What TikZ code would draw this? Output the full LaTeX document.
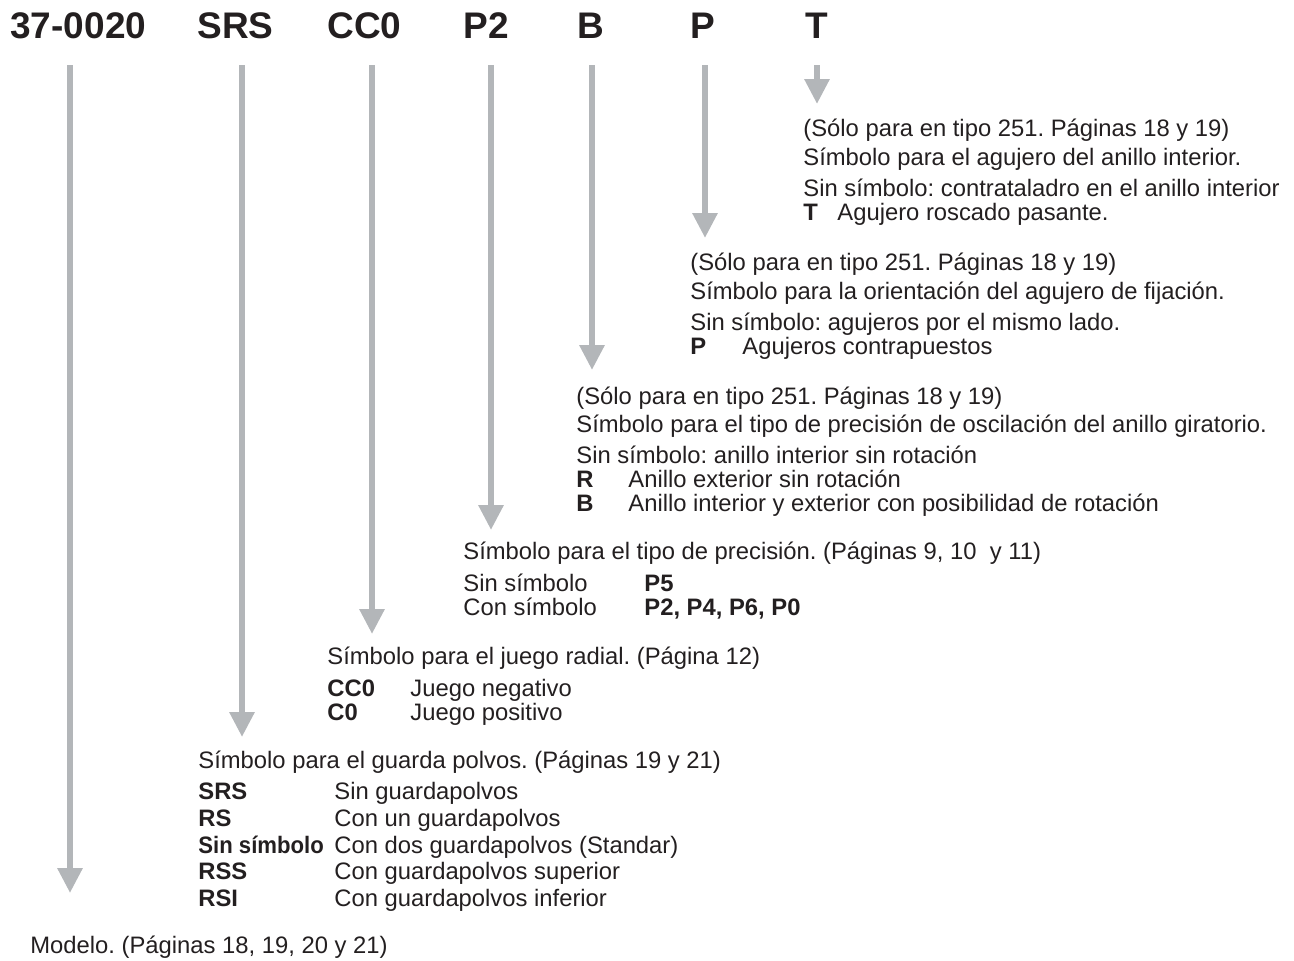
\documentclass[tikz,border=0pt]{standalone}
\usepackage{fontspec}
\setmainfont{Liberation Sans}
\usetikzlibrary{arrows.meta}
\definecolor{ink}{HTML}{231F20}
\definecolor{arrgray}{HTML}{B3B6B9}
\frenchspacing

\begin{document}
\begin{tikzpicture}[x=0.5pt,y=-0.5pt,
  ttl/.style={font=\fontsize{18.5}{22}\selectfont\bfseries,text=ink,inner sep=0pt,anchor=base west},
  txt/.style={font=\fontsize{11.9}{14}\selectfont,text=ink,inner sep=0pt,anchor=base west},
  bld/.style={txt,font=\fontsize{11.9}{14}\selectfont\bfseries},
  arr/.style={draw=arrgray,line width=3pt,-{Triangle[width=12pt,length=12.5pt]}}]
\useasboundingbox (0,0) rectangle (1294,960);
% code letters
\node[ttl] (lmod) at (10,38) {37-0020};
\node[ttl] (lsrs) at (197,38) {SRS};
\node[ttl] (lcc) at (327,38) {CC0};
\node[ttl] (lpp) at (463,38) {P2};
\node[ttl] (lb) at (577,38) {B};
\node[ttl] (lp) at (690,38) {P};
\node[ttl] (lt) at (805,38) {T};
% arrows
\foreach \n/\x/\y in {mod/70/893, srs/242/737, cc/372/634, pp/491/530, b/592/370, p/705/238, t/817/104}{
  \coordinate (s\n) at (\x,65);
  \coordinate (e\n) at (\x,\y);
  \draw[arr] (s\n) -- (e\n);
}
% T
\node[txt] (t1) at (803,136) {(Sólo para en tipo 251. Páginas 18 y 19)};
\node[txt] (t2) at (803,165) {Símbolo para el agujero del anillo interior.};
\node[txt] (t3) at (803,196) {Sin símbolo: contrataladro en el anillo interior};
\node[bld] (t4) at (803,220) {T};
\node[txt] (t5) at (837,220) {Agujero roscado pasante.};
% P
\node[txt] (p1) at (690,270) {(Sólo para en tipo 251. Páginas 18 y 19)};
\node[txt] (p2) at (690,299) {Símbolo para la orientación del agujero de fijación.};
\node[txt] (p3) at (690,330) {Sin símbolo: agujeros por el mismo lado.};
\node[bld] (p4) at (690,354) {P};
\node[txt] (p5) at (742,354) {Agujeros contrapuestos};
% B
\node[txt] (b1) at (576,404) {(Sólo para en tipo 251. Páginas 18 y 19)};
\node[txt] (b2) at (576,432) {Símbolo para el tipo de precisión de oscilación del anillo giratorio.};
\node[txt] (b3) at (576,463) {Sin símbolo: anillo interior sin rotación};
\node[bld] (b4) at (576,487) {R};
\node[txt] (b5) at (628,487) {Anillo exterior sin rotación};
\node[bld] (b6) at (576,511) {B};
\node[txt] (b7) at (628,511) {Anillo interior y exterior con posibilidad de rotación};
% P2
\node[txt] (q1) at (463,559) {Símbolo para el tipo de precisión. (Páginas 9, 10\ \ y 11)};
\node[txt] (q2) at (463,591) {Sin símbolo};
\node[bld] (q3) at (644,591) {P5};
\node[txt] (q4) at (463,615) {Con símbolo};
\node[bld] (q5) at (644,615) {P2, P4, P6, P0};
% CC0
\node[txt] (c1) at (327,664) {Símbolo para el juego radial. (Página 12)};
\node[bld] (c2) at (327,696) {CC0};
\node[txt] (c3) at (410,696) {Juego negativo};
\node[bld] (c4) at (327,720) {C0};
\node[txt] (c5) at (410,720) {Juego positivo};
% SRS
\node[txt] (r1) at (198,768) {Símbolo para el guarda polvos. (Páginas 19 y 21)};
\node[bld] (r2) at (198,799) {SRS};
\node[txt] (r3) at (334,799) {Sin guardapolvos};
\node[bld] (r4) at (198,826) {RS};
\node[txt] (r5) at (334,826) {Con un guardapolvos};
\node[bld] (r6) at (198,853) {\scalebox{0.93}[1]{Sin símbolo}};
\node[txt] (r7) at (334,853) {Con dos guardapolvos (Standar)};
\node[bld] (r8) at (198,879) {RSS};
\node[txt] (r9) at (334,879) {Con guardapolvos superior};
\node[bld] (r10) at (198,906) {RSI};
\node[txt] (r11) at (334,906) {Con guardapolvos inferior};
% model
\node[txt] (m1) at (30,953) {Modelo. (Páginas 18, 19, 20 y 21)};
\end{tikzpicture}
\end{document}
